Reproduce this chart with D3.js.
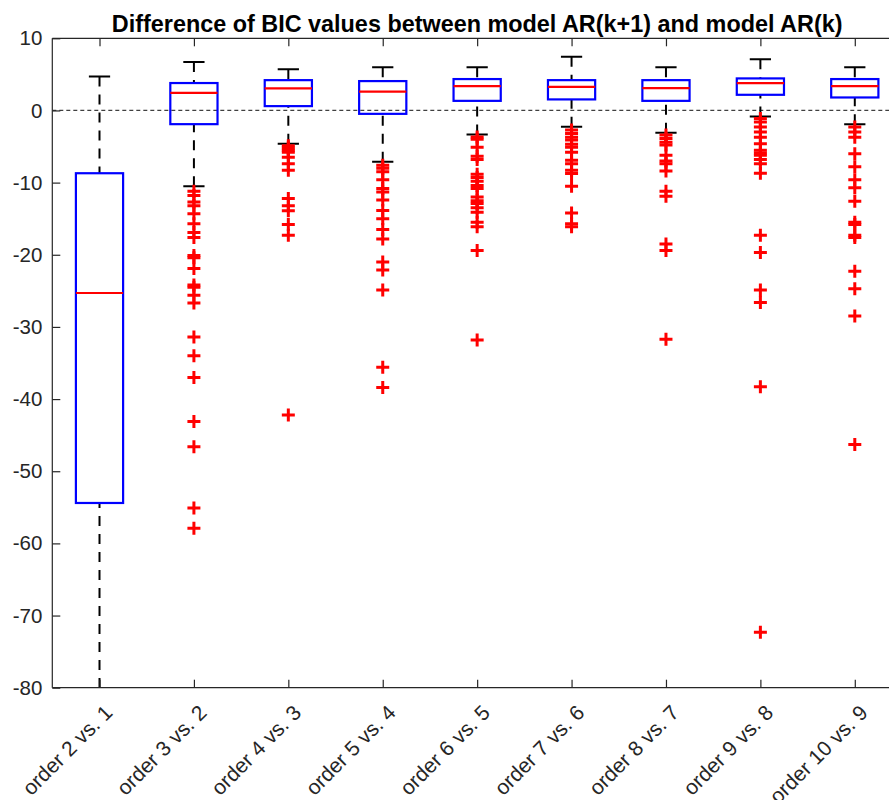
<!DOCTYPE html>
<html>
<head>
<meta charset="utf-8">
<script src="https://cdn.jsdelivr.net/npm/d3@7"></script>
<style>
  html, body { margin: 0; padding: 0; background: #fff; }
  svg { display: block; font-family: "Liberation Sans", Arial, Helvetica, sans-serif; }
</style>
</head>
<body>
<svg id="chart" width="889" height="800"></svg>
<script>
// ---- data ----
const categories = ["order 2 vs. 1", "order 3 vs. 2", "order 4 vs. 3", "order 5 vs. 4", "order 6 vs. 5",
                    "order 7 vs. 6", "order 8 vs. 7", "order 9 vs. 8", "order 10 vs. 9"];
const whiskerHigh = [4.7, 6.7, 5.7, 6.0, 6.0, 7.45, 6.0, 7.1, 6.0];
const q3Values    = [-8.7, 3.8, 4.2, 4.07, 4.35, 4.2, 4.2, 4.44, 4.35];
const medians     = [-25.3, 2.45, 3.05, 2.6, 3.37, 3.28, 3.1, 3.8, 3.37];
const q1Values    = [-54.4, -1.9, 0.6, -0.47, 1.33, 1.53, 1.33, 2.17, 1.8];
const whiskerLow  = [-100, -10.5, -4.6, -7.1, -3.33, -2.25, -3.1, -0.83, -1.9];
const outliers = [
  [],
  [-11.2, -11.8, -12.7, -13.2, -14.3, -15.7, -16.9, -17.6, -20.1, -20.4, -21.9, -24.2, -24.5, -25.6, -26.7,
   -31.4, -34.0, -37.0, -43.1, -46.6, -55.1, -57.9],
  [-4.9, -5.2, -5.5, -5.8, -6.5, -7.4, -8.3, -12.2, -13.2, -13.9, -15.8, -17.3, -42.2],
  [-7.6, -8.0, -8.5, -9.6, -10.8, -11.3, -12.4, -13.85, -15.0, -16.5, -17.8, -21.0, -22.1, -24.9, -35.6, -38.4],
  [-3.67, -4.0, -5.1, -6.35, -6.8, -8.85, -9.3, -9.8, -10.4, -10.8, -12.0, -12.5, -12.9, -13.5, -14.1,
   -15.5, -16.1, -19.4, -31.8],
  [-2.7, -3.2, -3.7, -4.1, -4.7, -5.1, -5.8, -6.9, -7.4, -8.3, -8.75, -10.5, -14.2, -15.7, -16.1],
  [-3.4, -3.9, -4.4, -4.8, -6.2, -7.0, -7.4, -8.4, -11.2, -11.9, -18.5, -19.4, -31.7],
  [-1.1, -1.6, -2.3, -3.0, -3.7, -4.6, -5.5, -5.9, -6.2, -6.8, -7.4, -8.7, -17.3, -19.7, -24.9, -26.6, -38.3, -72.3],
  [-2.3, -3.0, -3.7, -6.0, -7.8, -9.6, -10.7, -12.6, -15.5, -15.8, -17.3, -17.6, -22.3, -24.7, -28.5, -46.3]
];
const yTicks = [10, 0, -10, -20, -30, -40, -50, -60, -70, -80];
const chartTitle = "Difference of BIC values between model AR(k+1) and model AR(k)";

// ---- layout ----
const svg = d3.select("#chart");
const pL = 52.3, pR = 902, pT = 38.3, pB = 687.7;
const axisColor = "#262626";

const x = d3.scaleLinear().domain([0.5, categories.length + 0.5]).range([pL, pR]);
const y = d3.scaleLinear().domain([-80, 10]).range([pB, pT]);
const step = x(2) - x(1);
const boxW = step * 0.5;
const capW = boxW * 0.45;

svg.append("defs").append("clipPath").attr("id", "plotclip")
  .append("rect").attr("x", pL).attr("y", pT).attr("width", pR - pL).attr("height", pB - pT);

const plot = svg.append("g").attr("clip-path", "url(#plotclip)");

// zero reference line
plot.append("line")
  .attr("x1", pL).attr("x2", pR).attr("y1", y(0)).attr("y2", y(0))
  .attr("stroke", "#404040").attr("stroke-width", 1.2).attr("stroke-dasharray", "4,3");

const groups = plot.selectAll("g.box").data(categories).join("g").attr("class", "box");

groups.each(function(c, i) {
  const g = d3.select(this);
  const cx = x(i + 1);
  // whiskers (dashed)
  g.append("line").attr("x1", cx).attr("x2", cx).attr("y1", y(whiskerHigh[i])).attr("y2", y(q3Values[i]))
    .attr("stroke", "#000").attr("stroke-width", 2).attr("stroke-dasharray", "10,8");
  g.append("line").attr("x1", cx).attr("x2", cx).attr("y1", y(whiskerLow[i])).attr("y2", y(q1Values[i]))
    .attr("stroke", "#000").attr("stroke-width", 2).attr("stroke-dasharray", "10,8");
  // caps
  [whiskerHigh[i], whiskerLow[i]].forEach(v => {
    g.append("line").attr("x1", cx - capW / 2).attr("x2", cx + capW / 2).attr("y1", y(v)).attr("y2", y(v))
      .attr("stroke", "#000").attr("stroke-width", 2);
  });
  // box
  g.append("rect").attr("x", cx - boxW / 2).attr("width", boxW)
    .attr("y", y(q3Values[i])).attr("height", y(q1Values[i]) - y(q3Values[i]))
    .attr("fill", "none").attr("stroke", "#0000ff").attr("stroke-width", 2.2);
  // median
  g.append("line").attr("x1", cx - boxW / 2).attr("x2", cx + boxW / 2)
    .attr("y1", y(medians[i])).attr("y2", y(medians[i]))
    .attr("stroke", "#ff0000").attr("stroke-width", 2.2);
  // outliers
  const m = 6.5;
  g.selectAll("path.out").data(outliers[i]).join("path").attr("class", "out")
    .attr("d", v => `M${cx - m},${y(v)}H${cx + m}M${cx},${y(v) - m}V${y(v) + m}`)
    .attr("stroke", "#ff0000").attr("stroke-width", 3).attr("fill", "none");
});

// ---- axes ----
const tickLen = 8;
const frame = svg.append("g");
[[pL, pB, pR, pB], [pL, pT, pR, pT], [pL, pT, pL, pB], [pR, pT, pR, pB]].forEach(s => {
  frame.append("line").attr("x1", s[0]).attr("y1", s[1]).attr("x2", s[2]).attr("y2", s[3])
    .attr("stroke", axisColor).attr("stroke-width", 1.2);
});

// y axis via d3.axisLeft (inward ticks)
const yAxis = d3.axisLeft(y).tickValues(yTicks).tickSize(-tickLen).tickPadding(10).tickFormat(d => String(d));
const yg = svg.append("g").attr("transform", `translate(${pL},0)`).call(yAxis);
yg.select(".domain").remove();
yg.selectAll(".tick line").attr("stroke", axisColor).attr("stroke-width", 1.2);
yg.selectAll(".tick text").attr("fill", axisColor).style("font-size", "20.5px")
  .style("font-family", '"Liberation Sans", Arial, sans-serif');

// x axis ticks (bottom & top, inward)
const xTickVals = categories.map((c, i) => i + 1);
const xAxis = d3.axisBottom(x).tickValues(xTickVals).tickSize(-tickLen).tickFormat("");
const xg = svg.append("g").attr("transform", `translate(0,${pB})`).call(xAxis);
xg.select(".domain").remove();
xg.selectAll(".tick line").attr("stroke", axisColor).attr("stroke-width", 1.2);
const xAxisTop = d3.axisTop(x).tickValues(xTickVals).tickSize(-tickLen).tickFormat("");
const xgt = svg.append("g").attr("transform", `translate(0,${pT})`).call(xAxisTop);
xgt.select(".domain").remove();
xgt.selectAll(".tick line").attr("stroke", axisColor).attr("stroke-width", 1.2);

// rotated category labels
svg.append("g").selectAll("text").data(categories).join("text")
  .attr("transform", (c, i) => `translate(${x(i + 1) + 9},${pB + 21}) rotate(-45)`)
  .attr("text-anchor", "end").attr("dy", "0.35em")
  .attr("fill", axisColor).style("font-size", "21px")
  .text(c => c);

// title
svg.append("text").attr("x", (pL + pR) / 2).attr("y", 32.3)
  .attr("text-anchor", "middle").attr("fill", "#000")
  .style("font-size", "23.4px").style("font-weight", "bold")
  .text(chartTitle);
</script>
</body>
</html>
